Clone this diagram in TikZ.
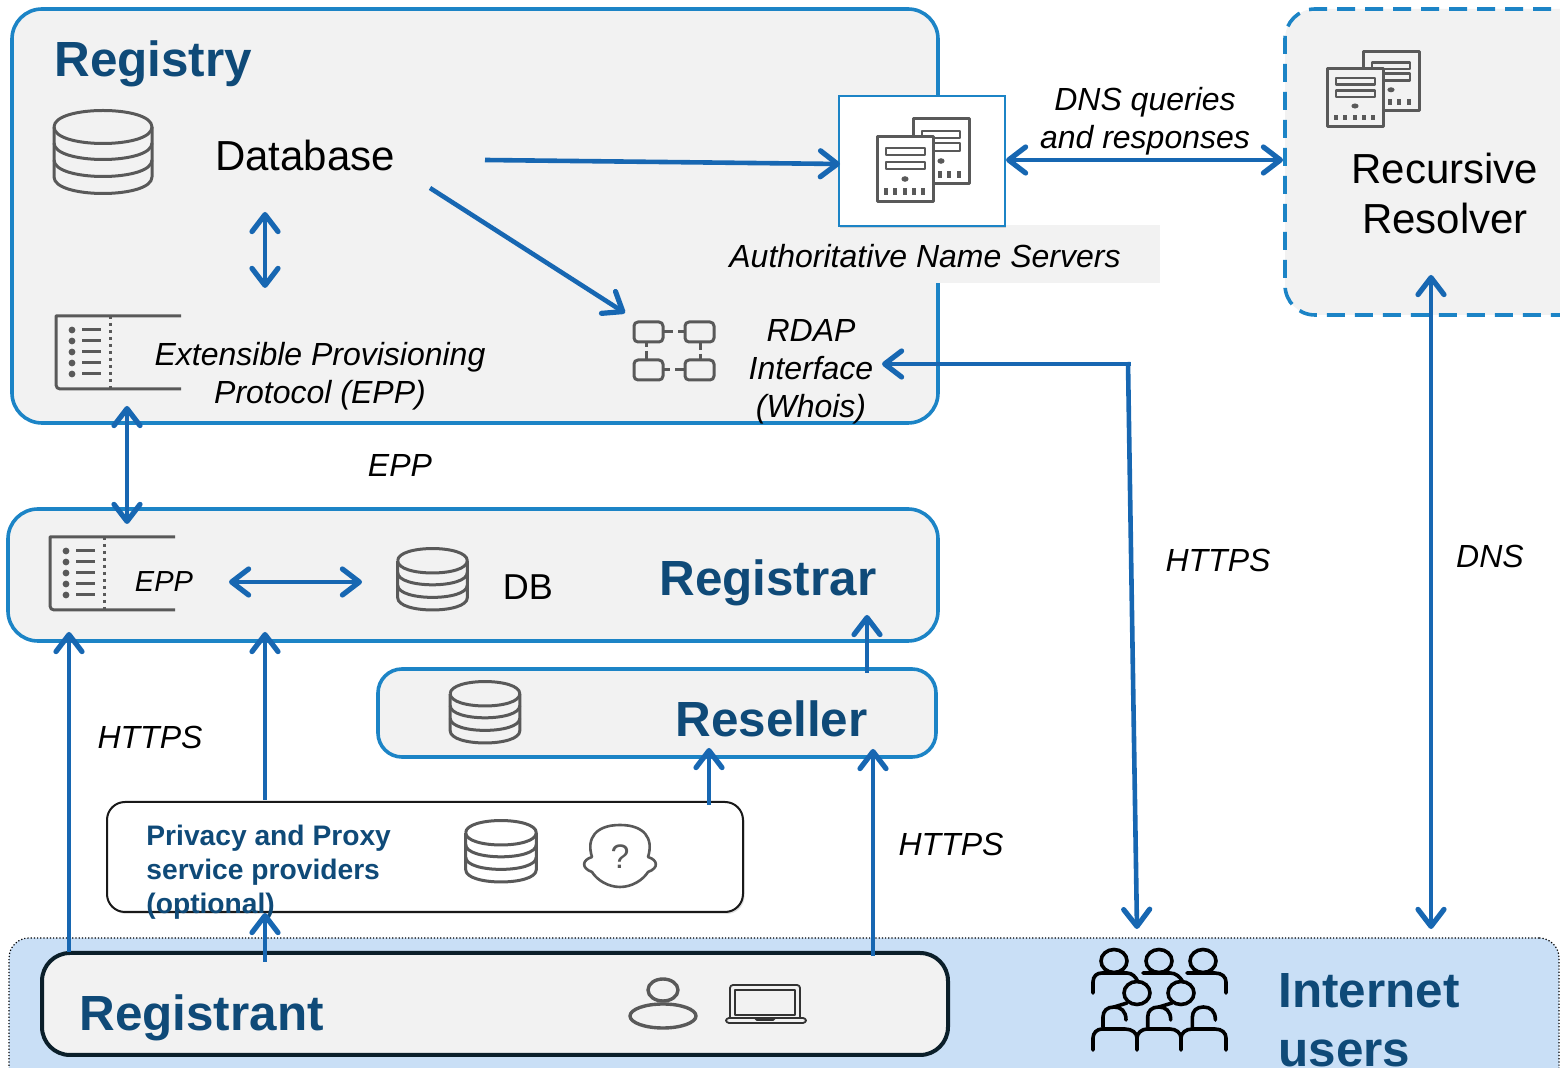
\documentclass[tikz,border=0pt]{standalone}
\usepackage{fontspec}
\setmainfont{Liberation Sans}
\usetikzlibrary{arrows.meta,shadows}
\definecolor{boxgrey}{HTML}{F2F2F2}
\definecolor{edgeblue}{HTML}{1C84C6}
\definecolor{arrowblue}{HTML}{1767B2}
\definecolor{titleblue}{HTML}{0F4A78}
\definecolor{icongrey}{HTML}{595959}
\definecolor{userblue}{HTML}{C9DFF6}
\definecolor{darkedge}{HTML}{0B1F2A}
\tikzset{
  regbox/.style={rectangle,rounded corners=15pt,fill=boxgrey,draw=edgeblue,line width=1.8pt,inner sep=0pt,minimum width=#1},
  titletext/.style={font=\fontsize{24.7}{30}\selectfont\bfseries,text=titleblue,anchor=base west,inner sep=0pt},
  bigtext/.style={font=\fontsize{21}{25}\selectfont,align=center,inner sep=0pt},
  itext/.style={font=\fontsize{16}{19}\selectfont\itshape,align=center,inner sep=0pt},
  link/.style={draw=arrowblue,line width=2.3pt,-{Straight Barb[round,length=8.5pt,width=13pt,line width=2.6pt]}},
  dlink/.style={draw=arrowblue,line width=2.3pt,{Straight Barb[round,length=8.5pt,width=13pt,line width=2.6pt]}-{Straight Barb[round,length=8.5pt,width=13pt,line width=2.6pt]}},
  ic/.style={draw=icongrey,line width=1.5pt,line join=round},
  pics/dbicon/.style={code={
    \draw[ic] (-49,-26) .. controls (-49,-48) and (49,-48) .. (49,-26) .. controls (49,-4) and (-49,-4) .. (-49,-26);
    \draw[ic] (-49,-26) -- (-49,24) .. controls (-49,46) and (49,46) .. (49,24) -- (49,-26);
    \draw[ic] (-49,-10) .. controls (-49,12) and (49,12) .. (49,-10);
    \draw[ic] (-49,7) .. controls (-49,29) and (49,29) .. (49,7);
  }},
  pics/servers/.style={code={
    \draw[ic,fill=#1] (36,0) rectangle (92,65);
    \draw[ic,line width=1.3pt] (45,12) rectangle (83,19) (45,24) rectangle (83,32);
    \fill[icongrey] (64,42) ellipse (3.6 and 2.8);
    \foreach \q in {63,72,82} \fill[icongrey] (\q-1.8,52.5) rectangle (\q+1.8,59);
    \draw[ic,fill=#1] (0,18) rectangle (56,83);
    \draw[ic,line width=1.3pt] (9,29) rectangle (48,36) (9,43) rectangle (48,50);
    \fill[icongrey] (28,60) ellipse (3.6 and 2.8);
    \foreach \q in {9,18,28,37,46} \fill[icongrey] (\q-1.8,69.5) rectangle (\q+1.8,76);
  }},
  pics/listicon/.style={code={
    \draw[ic] (125,0) -- (5,0) -- (0,0) [rounded corners=2pt] -- (0,73) -- (125,73);
    \draw[icongrey,line width=1.5pt,dotted] (54,0) -- (54,73);
    \foreach \q in {14,25,36,47,58} {
      \fill[icongrey] (16,\q) circle (3.4);
      \draw[ic] (26,\q) -- (45,\q);
    }
  }},
}
\begin{document}
\begin{tikzpicture}[x=0.5pt,y=-0.5pt]
\useasboundingbox (0,0) rectangle (1560,1068);
\clip (0,0) rectangle (1560,1068);
% containers
\node[regbox=463pt,minimum height=207pt] (registry) at (475,216) {};
\node[regbox=400pt,minimum height=153pt,dashed,dash pattern=on 9pt off 5pt] (resolver) at (1685,162) {};
\node[regbox=465pt,minimum height=66pt] (registrar) at (473,575) {};
\node[regbox=279pt,minimum height=44pt,rounded corners=12pt] (reseller) at (657,713) {};
\node[rectangle,rounded corners=10pt,fill=userblue,draw=black,line width=0.6pt,densely dotted,minimum width=775pt,minimum height=90pt,inner sep=0pt] (internet) at (784,1028) {};
\node[rectangle,rounded corners=14pt,fill=boxgrey,draw=darkedge,line width=2pt,minimum width=453pt,minimum height=51pt,inner sep=0pt] (registrant) at (495,1004) {};
\node[rectangle,rounded corners=9pt,fill=white,draw=black!90,line width=1pt,minimum width=318pt,minimum height=55pt,inner sep=0pt,drop shadow={opacity=0.25,shadow xshift=0.8pt,shadow yshift=-1pt}] (privacy) at (425,857) {};
\node[rectangle,fill=boxgrey,minimum width=215pt,minimum height=29pt,inner sep=0pt] (authlabelbg) at (945,254) {};
\node[rectangle,fill=white,draw=edgeblue,line width=1pt,minimum width=83pt,minimum height=65pt,inner sep=0pt,drop shadow={opacity=0.3,shadow xshift=0.6pt,shadow yshift=-1pt}] (authbox) at (922,161) {};

% icons
\pic at (103,153) {dbicon};
\pic[xscale=0.71,yscale=0.74] at (432.5,580) {dbicon};
\pic[xscale=0.71,yscale=0.74] at (485,713) {dbicon};
\pic[xscale=0.72,yscale=0.74] at (501,852) {dbicon};
\pic at (877,119) {servers=white};
\pic[yscale=0.9] at (1327,52) {servers=boxgrey};
\pic at (56,316) {listicon};
\pic at (50,537) {listicon};
% RDAP icon
\begin{scope}[ic,rounded corners=2pt]
  \draw (634,322) rectangle (663,342);
  \draw (685,322) rectangle (714,342);
  \draw (634,360) rectangle (663,380);
  \draw (685,360) rectangle (714,380);
  \draw (663,332) -- (673,332) (678,332) -- (685,332);
  \draw (663,370) -- (670,370) (675,370) -- (685,370);
  \draw (646,342) -- (646,347) (646,351) -- (646,360);
  \draw (700,342) -- (700,350) (700,354) -- (700,360);
\end{scope}
% head with question mark
\draw[ic,line width=1.3pt] (592,857)
  .. controls (586,838) and (596,825) .. (620,825)
  .. controls (644,825) and (654,838) .. (648,857)
  .. controls (658,860) and (659,868) .. (648,872)
  .. controls (643,880) and (632,887) .. (620,887)
  .. controls (608,887) and (597,880) .. (592,872)
  .. controls (581,868) and (582,860) .. (592,857) -- cycle;
\node[inner sep=0pt,text=icongrey,font=\fontsize{17}{19}\selectfont] (qmark) at (620,857) {?};
% person and laptop
\draw[ic,line width=1.7pt] (663,990) ellipse (15 and 11);
\draw[ic,line width=1.7pt] (663,1016) ellipse (33 and 12);
\begin{scope}[draw=black!80,line width=0.9pt,line join=round]
  \draw[rounded corners=1.5pt] (730,1018) -- (730,985) -- (800,985) -- (800,1018);
  \draw (735,990) rectangle (795,1015);
  \draw[rounded corners=1.5pt] (726,1018) rectangle (806,1023);
  \draw (755,1018) -- (757,1020) -- (773,1020) -- (775,1018);
\end{scope}
% internet users icon
\begin{scope}[draw=black,line width=1.8pt,line cap=round]
  \foreach \hx/\hy in {1114/961,1159/961,1203/961,1137/993,1181/993} {
    \draw (\hx,\hy) ellipse (13 and 11.5);
  }
  \draw (1093,993) -- (1093,982) .. controls (1093,976) and (1097,973) .. (1102,973) -- (1127,973) .. controls (1132,973) and (1136,977) .. (1138,982);
  \draw (1143,973) -- (1170,973) .. controls (1176,973) and (1180,977) .. (1183,982);
  \draw (1187,973) -- (1215,973) .. controls (1222,973) and (1226,977) .. (1226,982) -- (1226,993);
  \foreach \dx in {0,44.7,89.4} {
    \draw (1103+\dx,1027) -- (1103+\dx,1017) .. controls (1103+\dx,1011) and (1107+\dx,1007) .. (1114+\dx,1007) .. controls (1121+\dx,1007) and (1126+\dx,1011) .. (1126+\dx,1020);
  }
  \draw (1114,1007) -- (1127,1003);
  \draw (1159,1007) -- (1172,1003);
  \draw (1093,1050) -- (1093,1038) .. controls (1093,1033) and (1097,1029) .. (1102,1029) -- (1125,1029) .. controls (1132,1029) and (1137,1033) .. (1137,1038) -- (1137,1050);
  \draw (1137,1038) .. controls (1137,1033) and (1142,1029) .. (1147,1029) -- (1170,1029) .. controls (1176,1029) and (1181,1033) .. (1181,1038) -- (1181,1050);
  \draw (1181,1038) .. controls (1181,1033) and (1186,1029) .. (1192,1029) -- (1215,1029) .. controls (1222,1029) and (1226,1033) .. (1226,1038) -- (1226,1050);
\end{scope}

% connector end points
\coordinate (dbout) at (485,160);
\coordinate (authin) at (840,164);
\coordinate (dbdiag) at (430,188);
\coordinate (rdaptip) at (625,313);
\coordinate (dbdown) at (265,212);
\coordinate (eppup) at (265,288);
\coordinate (registrytop) at (127,406);
\coordinate (registrarepp) at (127,524);
\coordinate (eppleft) at (229,582);
\coordinate (dbright) at (362,582);
\coordinate (authright) at (1006,160);
\coordinate (resolverleft) at (1283,160);
\coordinate (rdapin) at (882,364);
\coordinate (whoisbend) at (1131,364);
\coordinate (bendtop) at (1128,362);
\coordinate (usersa) at (1137,929);
\coordinate (resolverbottom) at (1431,275);
\coordinate (usersb) at (1431,929);
\coordinate (regleft) at (69,952);
\coordinate (regleftup) at (69,632);
\coordinate (privtop) at (265,800);
\coordinate (regmid) at (265,632);
\coordinate (regbottom) at (265,962);
\coordinate (privbottom) at (265,913);
\coordinate (resellertop) at (867,673);
\coordinate (registrarbottom) at (867,615);
\coordinate (privright) at (709,805);
\coordinate (resellerbottom) at (709,748);
\coordinate (regright) at (873,956);
\coordinate (resellerright) at (873,749);

% connectors
\draw[link] (dbout) -- (authin);
\draw[link] (dbdiag) -- (rdaptip);
\draw[dlink] (dbdown) -- (eppup);
\draw[dlink] (registrytop) -- (registrarepp);
\draw[dlink] (eppleft) -- (dbright);
\draw[dlink] (authright) -- (resolverleft);
\draw[link] (whoisbend) -- (rdapin);
\draw[link] (bendtop) -- (usersa);
\draw[dlink] (resolverbottom) -- (usersb);
\draw[link] (regleft) -- (regleftup);
\draw[link] (privtop) -- (regmid);
\draw[link] (resellertop) -- (registrarbottom);
\draw[link] (privright) -- (resellerbottom);
\draw[link] (regright) -- (resellerright);

% texts
\node[titletext] (t1) at (54,77) {Registry};
\node[titletext] (t2) at (659,596) {Registrar};
\node[titletext] (t3) at (675,737) {Reseller};
\node[titletext] (t4) at (79,1031) {Registrant};
\node[titletext] (t5) at (1278,1008) {Internet};
\node[titletext] (t6) at (1278,1067) {users};
\node[bigtext] (t7) at (305,155) {Database};
\node[bigtext] (t8) at (1445,193) {Recursive\\Resolver};
\node[itext] (t9) at (320,376) {Extensible Provisioning\\Protocol (EPP)};
\node[itext] (t10) at (925,256) {Authoritative Name Servers};
\node[itext] (t11) at (811,372) {RDAP\\Interface\\(Whois)};
\node[itext] (t12) at (1145,121) {DNS queries\\and responses};
\node[itext] (t13) at (400,465) {EPP};
\node[itext,font=\fontsize{14.5}{17}\selectfont\itshape] (t14) at (164,582) {EPP};
\node[bigtext,font=\fontsize{18}{20}\selectfont] (t15) at (528,587) {DB};
\node[itext] (t16) at (1218,560) {HTTPS};
\node[itext] (t17) at (1490,556) {DNS};
\node[itext] (t18) at (150,737) {HTTPS};
\node[itext] (t19) at (951,844) {HTTPS};
\node[anchor=north west,align=left,inner sep=0pt,text=titleblue,font=\fontsize{14.1}{17}\selectfont\bfseries] (t20) at (146,825) {Privacy and Proxy\\service providers\\(optional)};
\draw[link] (regbottom) -- (privbottom);
\end{tikzpicture}
\end{document}
